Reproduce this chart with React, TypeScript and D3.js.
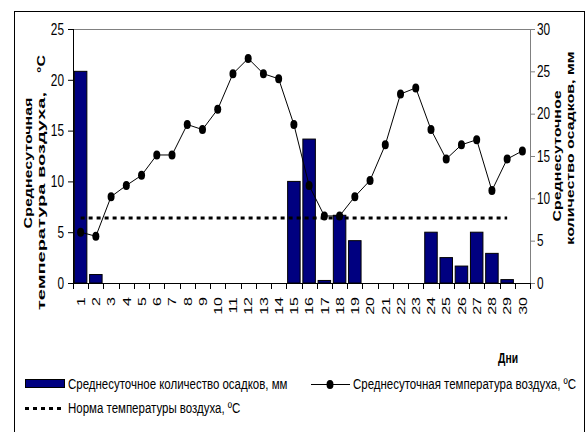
import React from 'react';
import * as d3 from 'd3';

// days of the month (category axis)
const days = [
  '1', '2', '3', '4', '5', '6', '7', '8', '9', '10',
  '11', '12', '13', '14', '15', '16', '17', '18', '19', '20',
  '21', '22', '23', '24', '25', '26', '27', '28', '29', '30'
];

// mean daily precipitation, mm (right axis)
const precipitation = [
  25, 1, 0, 0, 0, 0, 0, 0, 0, 0,
  0, 0, 0, 0, 12, 17, 0.3, 8, 5, 0,
  0, 0, 0, 6, 3, 2, 6, 3.5, 0.4, 0
];

// mean daily air temperature, °C (left axis)
const temperature = [
  5.0, 4.6, 8.5, 9.6, 10.6, 12.6, 12.6, 15.6, 15.1, 17.1,
  20.6, 22.1, 20.6, 20.1, 15.6, 9.6, 6.6, 6.6, 8.5, 10.1,
  13.6, 18.6, 19.2, 15.1, 12.2, 13.6, 14.1, 9.1, 12.2, 13.0
];

// air temperature norm, °C
const tempNorm = [
  6.4, 6.4, 6.4, 6.4, 6.4, 6.4, 6.4, 6.4, 6.4, 6.4,
  6.4, 6.4, 6.4, 6.4, 6.4, 6.4, 6.4, 6.4, 6.4, 6.4,
  6.4, 6.4, 6.4, 6.4, 6.4, 6.4, 6.4, 6.4, 6.4
];

const leftTicks = [0, 5, 10, 15, 20, 25];
const rightTicks = [0, 5, 10, 15, 20, 25, 30];

const FONT = '"Liberation Sans", Arial, sans-serif';
const SX = 0.74; // the original picture is squeezed horizontally
const SX_LEGEND = 0.82;

const W = 587;
const H = 432;
const plot = { left: 73, right: 530, top: 29, bottom: 283 };

const App: React.FC = () => {
  const x = d3
    .scaleBand<string>()
    .domain(days)
    .range([plot.left, plot.right])
    .paddingInner(0.18)
    .paddingOuter(0.09);
  const yL = d3.scaleLinear().domain([0, 25]).range([plot.bottom, plot.top]);
  const yR = d3.scaleLinear().domain([0, 30]).range([plot.bottom, plot.top]);

  const cx = (d: string) => (x(d) || 0) + x.bandwidth() / 2;
  const gap = x.step() - x.bandwidth();
  const boundaries = days.map(d => (x(d) || 0) - gap / 2).concat([plot.right]);

  const tempLine = d3
    .line<number>()
    .x((_v, i) => cx(days[i]))
    .y(v => yL(v));

  const normLine = d3
    .line<number>()
    .x((_v, i) => cx(days[i]))
    .y(v => yL(v));

  const squeezed = (tx: number, ty: number, rot = 0, sx = SX) =>
    `translate(${tx},${ty}) scale(${sx},1)` + (rot ? ` rotate(${rot})` : '');

  return (
    <svg
      width={W}
      height={H}
      style={{ position: 'absolute', left: 0, top: 0, background: '#fff' }}
      fontFamily={FONT}
    >
      <rect x={0} y={0} width={W} height={H} fill="#fff" />
      {/* chart frame */}
      <rect x={14.5} y={11.5} width={570} height={440} fill="none" stroke="#000" strokeWidth={1} />

      {/* plot top border */}
      <line x1={plot.left} x2={plot.right} y1={plot.top + 0.5} y2={plot.top + 0.5} stroke="#808080" />

      {/* bars */}
      {precipitation.map((v, i) =>
        v > 0 ? (
          <rect
            key={`bar-${i}`}
            x={x(days[i])}
            y={yR(v)}
            width={x.bandwidth()}
            height={plot.bottom - yR(v)}
            fill="#000080"
            stroke="#000"
            strokeWidth={1}
          />
        ) : null
      )}

      {/* temperature norm */}
      <path
        d={normLine(tempNorm) || ''}
        fill="none"
        stroke="#000"
        strokeWidth={3}
        strokeDasharray="4,4"
      />

      {/* temperature line */}
      <path d={tempLine(temperature) || ''} fill="none" stroke="#000" strokeWidth={1} />
      {temperature.map((v, i) => (
        <ellipse key={`pt-${i}`} cx={cx(days[i])} cy={yL(v)} rx={3.5} ry={4.5} fill="#000" />
      ))}

      {/* left axis */}
      <line x1={plot.left + 0.5} x2={plot.left + 0.5} y1={plot.top} y2={plot.bottom} stroke="#000" />
      {leftTicks.map(t => (
        <g key={`lt-${t}`}>
          <line x1={plot.left - 5} x2={plot.left} y1={yL(t) + 0.5} y2={yL(t) + 0.5} stroke="#000" />
          <text
            transform={squeezed(plot.left - 9, yL(t))}
            textAnchor="end"
            dy="0.36em"
            fontSize={16}
          >
            {t}
          </text>
        </g>
      ))}

      {/* right axis */}
      <line x1={plot.right + 0.5} x2={plot.right + 0.5} y1={plot.top} y2={plot.bottom} stroke="#808080" />
      {rightTicks.map(t => (
        <g key={`rt-${t}`}>
          <line x1={plot.right} x2={plot.right + 5} y1={yR(t) + 0.5} y2={yR(t) + 0.5} stroke="#808080" />
          <text
            transform={squeezed(plot.right + 7, yR(t))}
            textAnchor="start"
            dy="0.36em"
            fontSize={16}
          >
            {t}
          </text>
        </g>
      ))}

      {/* category axis */}
      <line x1={plot.left} x2={plot.right + 1} y1={plot.bottom + 0.5} y2={plot.bottom + 0.5} stroke="#000" />
      {boundaries.map((b, i) => (
        <line
          key={`xt-${i}`}
          x1={Math.round(b) + 0.5}
          x2={Math.round(b) + 0.5}
          y1={plot.bottom}
          y2={plot.bottom + 6}
          stroke="#000"
        />
      ))}
      {days.map(d => (
        <text
          key={`xl-${d}`}
          transform={squeezed(cx(d), plot.bottom + 14, -90)}
          textAnchor="end"
          dy="0.36em"
          fontSize={16}
        >
          {d}
        </text>
      ))}

      {/* axis titles */}
      <g fontWeight="bold" fontSize={16}>
        <text transform={squeezed(28, 163, -90)} textAnchor="middle" dy="0.36em">
          Среднесуточная
        </text>
        <text
          transform={squeezed(41, 310, -90)}
          textAnchor="start"
          dy="0.36em"
          textLength={218}
          lengthAdjust="spacingAndGlyphs"
        >
          температура воздуха,
        </text>
        <text transform={squeezed(41, 64, -90)} textAnchor="middle" dy="0.36em">
          °C
        </text>
        <text transform={squeezed(557, 156, -90)} textAnchor="middle" dy="0.36em">
          Среднесуточное
        </text>
        <text transform={squeezed(570, 148, -90)} textAnchor="middle" dy="0.36em">
          количество осадков,  мм
        </text>
      </g>
      <text transform={squeezed(508, 358)} textAnchor="middle" dy="0.36em" fontWeight="bold" fontSize={14}>
        Дни
      </text>

      {/* legend */}
      <rect x={25.5} y={379.5} width={39} height={8} fill="#000080" stroke="#000" />
      <text transform={squeezed(68, 384, 0, SX_LEGEND)} dy="0.36em" fontSize={14}>
        Среднесуточное количество осадков, мм
      </text>
      <line x1={311} x2={350} y1={384.5} y2={384.5} stroke="#000" />
      <ellipse cx={330} cy={384.5} rx={3.5} ry={4.5} fill="#000" />
      <text transform={squeezed(353, 384, 0, SX_LEGEND)} dy="0.36em" fontSize={14}>
        Среднесуточная температура воздуха, ºC
      </text>
      <line x1={25} x2={63} y1={408.5} y2={408.5} stroke="#000" strokeWidth={3} strokeDasharray="4,4" />
      <text transform={squeezed(68, 408, 0, SX_LEGEND)} dy="0.36em" fontSize={14}>
        Норма температуры воздуха, ºC
      </text>
    </svg>
  );
};

export default App;
